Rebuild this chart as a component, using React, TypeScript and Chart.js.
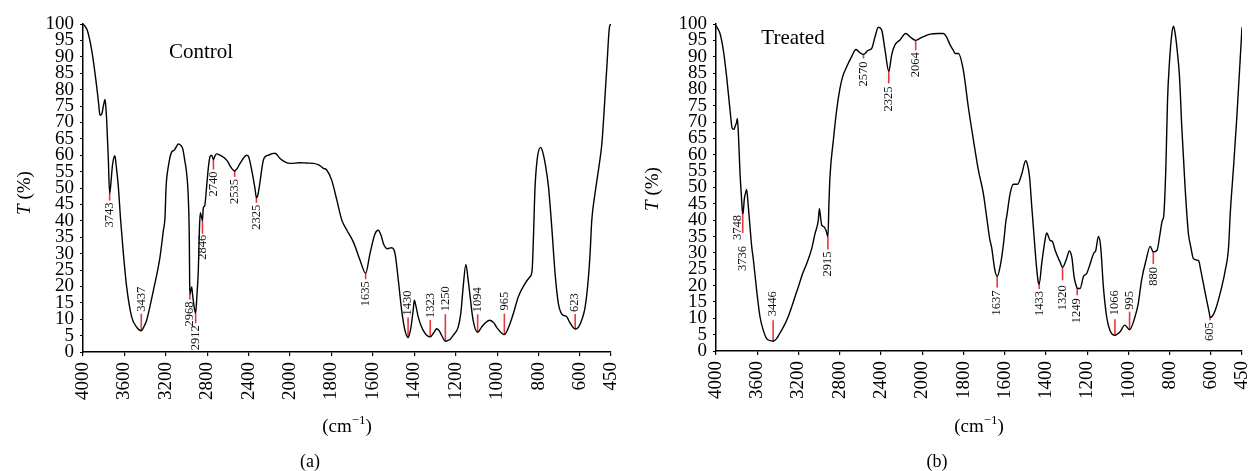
import React, { useEffect, useRef } from 'react';
import { Chart, registerables, LinearScale } from 'chart.js';

Chart.register(...registerables);

// ---------------- data ----------------
const X_TICKS = [4000, 3600, 3200, 2800, 2400, 2000, 1800, 1600, 1400, 1200, 1000, 800, 600, 450];
const Y_MIN = 0;
const Y_MAX = 100;
const Y_STEP = 5;

const CONTROL_WN = [
  4000, 3985, 3958, 3916, 3868, 3850, 3836, 3820, 3800, 3787, 3778, 3771, 3755, 3743, 3735, 3715, 3700, 3691, 3680, 3659,
  3636, 3610, 3578, 3530, 3482, 3437, 3400, 3385, 3320, 3256, 3224, 3208, 3198, 3176, 3143, 3120, 3100, 3079, 3055, 3037,
  3015, 2999, 2982, 2973, 2970, 2968, 2960, 2950, 2940, 2925, 2912, 2900, 2886, 2875, 2867, 2858, 2846, 2838, 2825, 2806,
  2790, 2773, 2757, 2740, 2725, 2709, 2677, 2612, 2564, 2535, 2510, 2483, 2440, 2419, 2400, 2371, 2339, 2325, 2310, 2297,
  2258, 2230, 2210, 2170, 2145, 2097, 2050, 2000, 1952, 1920, 1887, 1860, 1839, 1823, 1799, 1774, 1750, 1726, 1694, 1662,
  1635, 1614, 1590, 1574, 1560, 1549, 1530, 1509, 1493, 1477, 1461, 1445, 1430, 1416, 1405, 1400, 1392, 1381, 1357, 1323,
  1305, 1292, 1280, 1268, 1250, 1228, 1212, 1188, 1175, 1164, 1151, 1140, 1132, 1116, 1094, 1075, 1055, 1035, 1015, 1003,
  965, 938, 918, 898, 866, 842, 831, 825, 817, 805, 789, 780, 768, 752, 736, 720, 704, 690, 680, 663,
  650, 623, 607, 590, 575, 560, 551, 543, 527, 506, 494, 483, 470, 457, 450,
];
const CONTROL_T = [
  100, 99.5, 98, 92, 81, 76, 72.2, 72.5, 75.5, 77, 74, 70.5, 58.5, 48.3, 50, 57, 59.5, 59.8, 57, 50.5,
  40, 30, 19.8, 10.7, 7.6, 6.5, 8.5, 9.7, 18.8, 29, 37, 41, 50, 56.5, 61, 61.5, 62.5, 63.4, 63, 62,
  58, 54.5, 46.3, 34, 22, 17.5, 18.5, 19.8, 17, 13.5, 11.8, 17, 25, 38, 42.5, 41.5, 40, 44, 44.5, 50.4,
  56, 59.6, 60, 58.7, 59.8, 60.4, 60, 58.5, 56, 55.2, 56, 57.5, 59.5, 60, 59.5, 55.5, 49.9, 47, 48, 50.4,
  58.5, 59.8, 60, 60.5, 60.6, 59, 58, 57.5, 57.7, 57.6, 57.5, 57, 56, 55.5, 52.4, 46.3, 40.2, 37.2, 33.5, 28,
  24, 30, 36, 37.1, 35.5, 33, 31.5, 31.8, 30, 21.8, 12.7, 6.6, 4.4, 7.6, 13, 15.8, 14, 10.7, 6.6, 4.6,
  6, 7.1, 6.5, 5.1, 3.3, 3.8, 5.1, 7.6, 12, 19.8, 26.7, 22, 17.8, 9.7, 6, 7.6, 9, 9.7, 8.8, 7.6,
  5.3, 8.6, 12.5, 16.8, 20.8, 22.9, 24.9, 34, 50, 59.5, 62.4, 61, 57.5, 50.4, 38, 23.9, 14.7, 11.8, 11.2, 10.7,
  9.1, 7, 7.6, 10, 13.7, 22, 30, 40, 48.4, 57.5, 63.6, 73.8, 87, 99.2, 100,
];

const TREATED_WN = [
  4000, 3961, 3929, 3897, 3864, 3842, 3825, 3816, 3800, 3793, 3783, 3767, 3755, 3745, 3740, 3736, 3725, 3712, 3703, 3690,
  3664, 3654, 3638, 3606, 3573, 3541, 3509, 3460, 3446, 3412, 3380, 3347, 3300, 3266, 3230, 3202, 3160, 3121, 3072, 3040,
  3008, 2998, 2990, 2975, 2953, 2935, 2920, 2915, 2905, 2895, 2862, 2830, 2800, 2772, 2733, 2685, 2643, 2604, 2570, 2523,
  2491, 2458, 2426, 2394, 2361, 2325, 2297, 2265, 2216, 2161, 2119, 2064, 2006, 1962, 1922, 1898, 1882, 1865, 1850, 1841,
  1825, 1801, 1777, 1752, 1728, 1704, 1688, 1672, 1664, 1648, 1637, 1620, 1606, 1594, 1591, 1574, 1558, 1538, 1517, 1499,
  1490, 1480, 1469, 1458, 1448, 1438, 1433, 1421, 1405, 1397, 1381, 1368, 1356, 1332, 1320, 1300, 1287, 1275, 1264, 1252,
  1249, 1235, 1219, 1203, 1186, 1167, 1160, 1146, 1135, 1122, 1106, 1090, 1066, 1042, 1018, 995, 969, 953, 937, 915,
  895, 880, 862, 847, 836, 830, 819, 811, 802, 790, 782, 774, 766, 753, 742, 726, 710, 698, 686, 669,
  660, 650, 628, 608, 605, 596, 580, 556, 531, 515, 507, 491, 475, 459, 450,
];
const TREATED_T = [
  99.5, 97.1, 92, 83.9, 73.7, 68, 67.8, 68.6, 70, 71.1, 66.5, 54.3, 48, 43, 42, 42.5, 46.6, 48.5, 49.4, 45.5,
  35.5, 32, 28, 18.6, 10.4, 6.3, 3.8, 3.1, 3, 3.8, 5.5, 7.3, 10.5, 13.5, 17, 19.6, 23.7, 26.7, 31.3, 35.9,
  40, 43.5, 42, 38.5, 38, 37, 35.4, 35, 45, 53.3, 64.5, 73.7, 80, 83.9, 86.9, 90, 92.2, 91.2, 90.7, 92,
  92.5, 96.1, 99, 98.2, 92, 85.5, 90.5, 93.6, 95.1, 97.1, 96.1, 95, 95.9, 96.9, 97.1, 97.1, 96, 93.6, 92, 91,
  91, 85.9, 74.7, 64.5, 55.3, 48.2, 41, 33.9, 31.8, 24.7, 22.8, 26.7, 32.9, 40, 41, 48.2, 51, 51, 54.3, 58.2,
  57, 53.3, 44, 35, 27, 21.1, 20.5, 26.7, 33.9, 36.1, 33.9, 33.4, 30.8, 27.2, 25.6, 28.3, 30.6, 28.7, 22.7, 19.6,
  19.2, 19.1, 22.7, 23.7, 26.7, 30.1, 30.5, 35, 31.8, 19.6, 10.4, 6.3, 4.8, 5.8, 7.9, 6.5, 10.4, 14.5, 21.6, 27.8,
  32, 30.3, 30.8, 36, 40, 41, 56.3, 76.7, 88, 97.1, 99.3, 97.1, 93, 83.9, 68.6, 50.2, 36, 31.8, 28.3, 27.8,
  27.6, 24.7, 17.6, 11.4, 10.3, 10.5, 12.4, 17.6, 24.7, 31.8, 42, 56.3, 71.6, 89, 99,
];

const CONTROL_PEAKS = [3743, 3437, 2968, 2912, 2846, 2740, 2535, 2325, 1635, 1430, 1323, 1250, 1094, 965, 623];
const TREATED_PEAKS = [3748, 3736, 3446, 2915, 2570, 2325, 2064, 1637, 1433, 1320, 1249, 1066, 995, 880, 605];

// ---------------- annotation layout (direction, line length px, gap px, optional anchor / shift) ----------------
type Mark = { dir: number; len: number; gap: number; at?: number; dx?: number };
const CONTROL_MARKS: Mark[] = [
  { dir: -1, len: 7, gap: 2 },
  { dir: 1, len: 17, gap: 2 },
  { dir: -1, len: 5, gap: 2 },
  { dir: -1, len: 10, gap: 2 },
  { dir: -1, len: 13, gap: 1 },
  { dir: -1, len: 10, gap: 2 },
  { dir: -1, len: 6, gap: 2 },
  { dir: -1, len: 5, gap: 2 },
  { dir: -1, len: 6, gap: 2 },
  { dir: 1, len: 20, gap: 2 },
  { dir: 1, len: 17, gap: 2 },
  { dir: 1, len: 27, gap: 3 },
  { dir: 1, len: 18, gap: 2 },
  { dir: 1, len: 21, gap: 3 },
  { dir: 1, len: 15, gap: 2 },
];
const TREATED_MARKS: Mark[] = [
  { dir: -1, len: 0, gap: 2, at: 3741, dx: -5 },
  { dir: -1, len: 20, gap: 13, at: 3741 },
  { dir: 1, len: 21, gap: 4 },
  { dir: -1, len: 13, gap: 2 },
  { dir: -1, len: 4, gap: 3 },
  { dir: -1, len: 12, gap: 3 },
  { dir: -1, len: 10, gap: 2 },
  { dir: -1, len: 11, gap: 3 },
  { dir: -1, len: 5, gap: 2 },
  { dir: -1, len: 13, gap: 5 },
  { dir: -1, len: 7, gap: 3 },
  { dir: 1, len: 16, gap: 4 },
  { dir: 1, len: 18, gap: 2 },
  { dir: -1, len: 12, gap: 3 },
  { dir: -1, len: 3, gap: 2 },
];

// ---------------- split wavenumber scale ----------------
const BREAK_WN = 2000;
function wnToUnit(w: number) {
  return w >= BREAK_WN ? (4000 - w) / 400 : 5 + (BREAK_WN - w) / 200;
}
function unitToWn(u: number) {
  return u <= 5 ? 4000 - u * 400 : BREAK_WN - (u - 5) * 200;
}
const TOTAL_UNITS = wnToUnit(450);

class FtirScale extends LinearScale {
  static id = 'ftir';
  static defaults = LinearScale.defaults;
  getPixelForValue(value: any) {
    if (value === null || value === undefined) return NaN;
    return (this as any).getPixelForDecimal(wnToUnit(value) / TOTAL_UNITS);
  }
  getValueForPixel(pixel: number) {
    return unitToWn((this as any).getDecimalForPixel(pixel) * TOTAL_UNITS);
  }
}
Chart.register(FtirScale as any);

function interp(wn: number[], t: number[], w: number) {
  for (let i = 0; i < wn.length - 1; i++) {
    if (wn[i] >= w && wn[i + 1] <= w) {
      const f = (wn[i] - w) / (wn[i] - wn[i + 1] || 1);
      return t[i] + f * (t[i + 1] - t[i]);
    }
  }
  return t[t.length - 1];
}

const SERIF = '"Liberation Serif", "Times New Roman", serif';
const RED = '#e8383d';

type Geom = {
  yWidth: number; xHeight: number; padRight: number;
  yTitleX: number; yTitleY: number; nameX: number; nameY: number; letterX: number;
};

type PanelProps = {
  wn: number[]; t: number[]; peaks: number[]; marks: Mark[]; name: string; letter: string; geom: Geom; left: number;
};

function Panel({ wn, t, peaks, marks, name, letter, geom, left }: PanelProps) {
  const ref = useRef<HTMLCanvasElement | null>(null);
  useEffect(() => {
    if (!ref.current) return;
    const points = wn.map((w, i) => ({ x: w, y: t[i] }));
    const decor = {
      id: 'ftirDecor',
      beforeDatasetsDraw(chart: any) {
        const { ctx, scales } = chart;
        const xs = scales.x, ys = scales.y;
        ctx.save();
        peaks.forEach((pk, i) => {
          const m = marks[i];
          const at = m.at ?? pk;
          const x = xs.getPixelForValue(at);
          const y0 = ys.getPixelForValue(interp(wn, t, at));
          const y1 = y0 - m.dir * m.len;
          if (m.len > 0) {
            ctx.strokeStyle = RED;
            ctx.lineWidth = 1.6;
            ctx.beginPath();
            ctx.moveTo(x, y0);
            ctx.lineTo(x, y1);
            ctx.stroke();
          }
          ctx.save();
          ctx.translate(x + (m.dx || 0), y1 - m.dir * m.gap);
          ctx.rotate(-Math.PI / 2);
          ctx.font = `12.5px ${SERIF}`;
          ctx.fillStyle = '#111';
          ctx.textBaseline = 'middle';
          ctx.textAlign = m.dir > 0 ? 'left' : 'right';
          ctx.fillText(String(pk), 0, 0);
          ctx.restore();
        });
        ctx.restore();
      },
      afterDraw(chart: any) {
        const { ctx, chartArea } = chart;
        ctx.save();
        ctx.fillStyle = '#000';
        // y title: italic T + (%)
        ctx.save();
        ctx.translate(geom.yTitleX, geom.yTitleY);
        ctx.rotate(-Math.PI / 2);
        ctx.textBaseline = 'middle';
        ctx.textAlign = 'left';
        ctx.font = `italic 19px ${SERIF}`;
        const wT = ctx.measureText('T').width;
        ctx.font = `19px ${SERIF}`;
        const rest = ' (%)';
        const wR = ctx.measureText(rest).width;
        const start = -(wT + wR) / 2;
        ctx.font = `italic 19px ${SERIF}`;
        ctx.fillText('T', start, 0);
        ctx.font = `19px ${SERIF}`;
        ctx.fillText(rest, start + wT, 0);
        ctx.restore();
        // x title: (cm^-1)
        const cx = (chartArea.left + chartArea.right) / 2;
        const base = 432;
        ctx.textBaseline = 'alphabetic';
        ctx.textAlign = 'left';
        ctx.font = `19px ${SERIF}`;
        const a = '(cm';
        const c = ')';
        const wa = ctx.measureText(a).width;
        const wc = ctx.measureText(c).width;
        ctx.font = `13px ${SERIF}`;
        const b = '\u22121';
        const wb = ctx.measureText(b).width;
        let xx = cx - (wa + wb + wc) / 2;
        ctx.font = `19px ${SERIF}`;
        ctx.fillText(a, xx, base);
        xx += wa;
        ctx.font = `13px ${SERIF}`;
        ctx.fillText(b, xx, base - 8);
        xx += wb;
        ctx.font = `19px ${SERIF}`;
        ctx.fillText(c, xx, base);
        // panel letter
        ctx.textAlign = 'center';
        ctx.textBaseline = 'middle';
        ctx.font = `18px ${SERIF}`;
        ctx.fillText(letter, geom.letterX, 462);
        // panel name
        ctx.font = `21px ${SERIF}`;
        ctx.fillText(name, geom.nameX, geom.nameY);
        ctx.restore();
      },
    };

    const chart = new Chart(ref.current, {
      type: 'line',
      data: {
        datasets: [
          {
            data: points,
            borderColor: '#000',
            borderWidth: 1.4,
            pointRadius: 0,
            fill: false,
            cubicInterpolationMode: 'monotone',
          } as any,
        ],
      },
      options: {
        animation: false,
        responsive: false,
        events: [],
        layout: { padding: { top: 24, right: geom.padRight, left: 0, bottom: 0 } },
        plugins: { legend: { display: false }, tooltip: { enabled: false }, title: { display: false } },
        scales: {
          x: {
            type: 'ftir' as any,
            min: 450,
            max: 4000,
            afterBuildTicks: (s: any) => {
              s.ticks = X_TICKS.map((v) => ({ value: v }));
            },
            afterFit: (s: any) => {
              s.height = geom.xHeight;
              s.paddingLeft = 0;
              s.paddingRight = 0;
            },
            ticks: {
              autoSkip: false,
              maxRotation: 90,
              minRotation: 90,
              padding: 6,
              color: '#000',
              font: { family: SERIF, size: 19 },
              callback: (v: any) => String(v),
            },
            grid: { display: true, drawOnChartArea: false, drawTicks: true, tickLength: 4, color: '#000', lineWidth: 1.2 },
            border: { display: true, color: '#000', width: 1.5 },
          } as any,
          y: {
            type: 'linear',
            min: Y_MIN,
            max: Y_MAX,
            afterFit: (s: any) => {
              s.width = geom.yWidth;
              s.paddingTop = 0;
              s.paddingBottom = 0;
            },
            ticks: {
              stepSize: Y_STEP,
              autoSkip: false,
              padding: 6,
              color: '#000',
              font: { family: SERIF, size: 19 },
              callback: (v: any) => String(v),
            },
            grid: { display: true, drawOnChartArea: false, drawTicks: true, tickLength: 3, color: '#000', lineWidth: 1 },
            border: { display: true, color: '#000', width: 1.5 },
          },
        },
      },
      plugins: [decor],
    });
    return () => chart.destroy();
  }, []);
  return (
    <canvas
      ref={ref}
      width={625}
      height={471}
      style={{ position: 'absolute', left, top: 0, width: 625, height: 471 }}
    />
  );
}

const GEOM_A: Geom = { yWidth: 83, xHeight: 119, padRight: 14, yTitleX: 25, yTitleY: 193, nameX: 201, nameY: 52, letterX: 310 };
const GEOM_B: Geom = { yWidth: 91, xHeight: 120, padRight: 8, yTitleX: 28, yTitleY: 189, nameX: 168, nameY: 38, letterX: 312 };

export default function App() {
  return (
    <div style={{ position: 'fixed', left: 0, top: 0, width: 1250, height: 471, background: '#fff', overflow: 'hidden' }}>
      <Panel wn={CONTROL_WN} t={CONTROL_T} peaks={CONTROL_PEAKS} marks={CONTROL_MARKS} name="Control" letter="(a)" geom={GEOM_A} left={0} />
      <Panel wn={TREATED_WN} t={TREATED_T} peaks={TREATED_PEAKS} marks={TREATED_MARKS} name="Treated" letter="(b)" geom={GEOM_B} left={625} />
    </div>
  );
}
